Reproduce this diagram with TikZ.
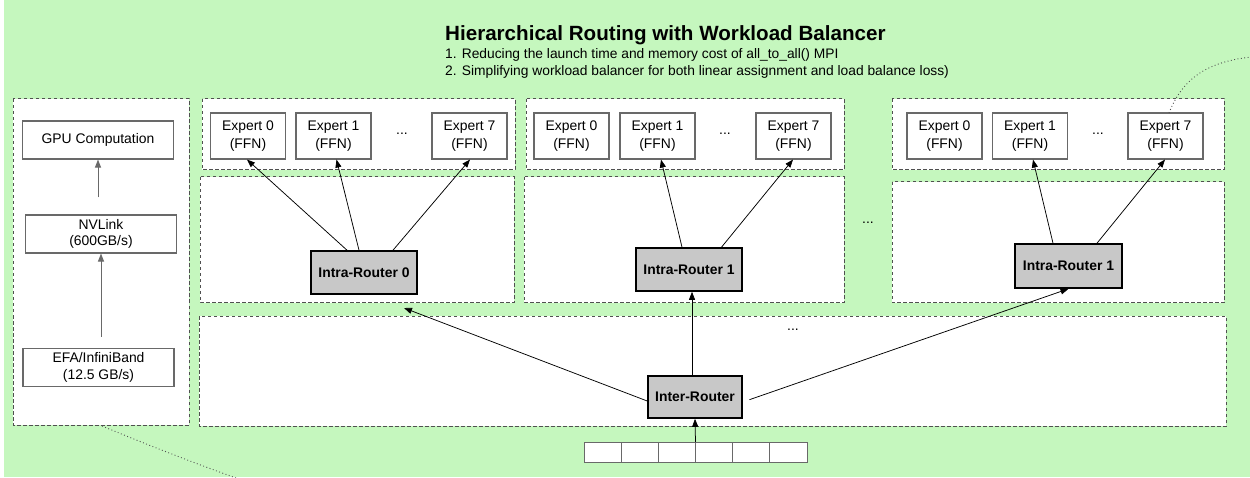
\documentclass[tikz,border=0pt]{standalone}
\usepackage{fontspec}
\setmainfont{Liberation Sans}
\usetikzlibrary{arrows.meta}
\definecolor{bggreen}{RGB}{197,247,190}
\definecolor{routergray}{RGB}{200,200,200}
\definecolor{dashgray}{RGB}{80,80,80}
\definecolor{boxgray}{RGB}{105,105,105}
\tikzset{
  panel/.style={draw=dashgray, fill=white, line width=1pt, dash pattern=on 3.5pt off 2.5pt},
  expert/.style={draw=boxgray, fill=white, line width=1.1pt, minimum width=75pt, minimum height=46pt,
    inner sep=0pt, align=center, font=\fontsize{13.9}{17.5}\selectfont},
  leftbox/.style={draw=boxgray, fill=white, line width=1.1pt, minimum width=151pt, minimum height=38pt,
    inner sep=0pt, align=center, font=\fontsize{13.9}{16.5}\selectfont},
  router/.style={draw=black, fill=routergray, line width=1.6pt, minimum height=42pt,
    inner sep=0pt, align=center, font=\fontsize{13.9}{16}\selectfont\bfseries},
  cell/.style={draw=boxgray, fill=white, line width=0.9pt, minimum width=37.17pt, minimum height=20pt, inner sep=0pt},
  dotsnode/.style={inner sep=0pt, font=\fontsize{13.9}{16}\selectfont},
  arr/.style={-{Triangle[length=8pt,width=6pt]}, line width=0.75pt, draw=black},
  grayarr/.style={-{Triangle[length=8pt,width=6pt]}, line width=0.9pt, draw=boxgray},
  dottedlink/.style={draw=dashgray, line width=0.9pt, dash pattern=on 0.9pt off 2.5pt},
}
\begin{document}
\begin{tikzpicture}[x=1pt,y=-1pt]
\useasboundingbox (0,0) rectangle (1250,478);
\fill[white] (0,0) rectangle (1250,478);
\fill[bggreen] (4,0) rectangle (1250,477);

% title
\node[anchor=base west, inner sep=0pt, font=\fontsize{20.6}{24}\selectfont\bfseries] (title) at (445,41) {Hierarchical Routing with Workload Balancer};
\node[anchor=base west, inner sep=0pt, font=\fontsize{13.8}{16}\selectfont] (line1) at (445,59) {1. Reducing the launch time and memory cost of all\_to\_all() MPI};
\node[anchor=base west, inner sep=0pt, font=\fontsize{13.8}{16}\selectfont] (line2) at (445,76) {2. Simplifying workload balancer for both linear assignment and load balance loss)};

% containers
\draw[panel] (13,99) rectangle (189,425);
\draw[panel] (202,99) rectangle (515,170);
\draw[panel] (526,99) rectangle (844,170);
\draw[panel] (892,99) rectangle (1224,170);
\draw[panel] (200,177) rectangle (514,303);
\draw[panel] (524,177) rectangle (844,303);
\draw[panel] (892,182) rectangle (1224,303);
\draw[panel] (199,316) rectangle (1226,426);

% left panel
\node[leftbox] (gpu) at (98,140) {GPU Computation};
\node[leftbox] (nv) at (101,234) {NVLink\\(600GB/s)};
\node[leftbox] (efa) at (98.5,367.5) {EFA/InfiniBand\\(12.5 GB/s)};
\draw[grayarr, shorten <=17pt] (nv.north -| gpu.south) -- (gpu.south);
\draw[grayarr, shorten <=11pt] (efa.north -| nv.south) -- (nv.south);

% experts group 1
\node[expert] (a0) at (248,136) {Expert 0\\(FFN)};
\node[expert] (a1) at (333.5,136) {Expert 1\\(FFN)};
\node[dotsnode] (adots) at (402,134) {...};
\node[expert] (a7) at (469.5,136) {Expert 7\\(FFN)};
% experts group 2
\node[expert] (b0) at (571.5,136) {Expert 0\\(FFN)};
\node[expert] (b1) at (657.5,136) {Expert 1\\(FFN)};
\node[dotsnode] (bdots) at (725,134) {...};
\node[expert] (b7) at (793.5,136) {Expert 7\\(FFN)};
% experts group 3
\node[expert] (c0) at (944.5,136) {Expert 0\\(FFN)};
\node[expert] (c1) at (1030,136) {Expert 1\\(FFN)};
\node[dotsnode] (cdots) at (1098,134) {...};
\node[expert] (c7) at (1165.5,136) {Expert 7\\(FFN)};

% routers
\node[router, minimum width=106pt, minimum height=43pt] (ra) at (364,272.5) {Intra-Router 0};
\node[router, minimum width=106pt, minimum height=43pt] (rb) at (689,269.5) {Intra-Router 1};
\node[router, minimum width=107pt, minimum height=44pt] (rc) at (1068.5,266) {Intra-Router 1};
\node[router, minimum width=94pt] (inter) at (695,397) {Inter-Router};

\node[dotsnode] (mdots) at (868,223) {...};
\node[dotsnode] (ldots) at (793,330) {...};

% token cells
\foreach \i in {0,...,5} {
  \node[cell] (t\i) at ({584+18.585+37.17*\i},452) {};
}
\coordinate (tokc) at (695.5,442);

% arrows group 1
\draw[arr] ([xshift=-17pt]ra.north) -- ([xshift=-1pt]a0.south);
\draw[arr] ([xshift=-5pt]ra.north) -- ([xshift=3pt]a1.south);
\draw[arr] ([xshift=29pt]ra.north) -- ([xshift=0.5pt]a7.south);
% group 2
\draw[arr] ([xshift=-7pt]rb.north) -- ([xshift=3.5pt]b1.south);
\draw[arr] ([xshift=32.5pt]rb.north) -- ([xshift=-0.5pt]b7.south);
% group 3
\draw[arr] ([xshift=-15.5pt]rc.north) -- ([xshift=3pt]c1.south);
\draw[arr] ([xshift=28.5pt]rc.north) -- ([xshift=-0.5pt]c7.south);

% inter router arrows
\coordinate (raend) at (404,308);
\draw[arr] ([yshift=-4pt]inter.west) -- (raend);
\draw[arr] ([xshift=-3pt]inter.north) -- ([xshift=3pt]rb.south);
\draw[arr, shorten <=7pt] ([yshift=-5pt]inter.east) -- (rc.south);
\draw[arr] (tokc) -- (inter.south);

% dotted links
\coordinate (dl1) at (102,426);
\coordinate (dl2) at (236,478);
\draw[dottedlink] (dl1) .. controls (160,450) and (200,465) .. (dl2);
\coordinate (dr1) at (1169,113);
\coordinate (dr2) at (1252,57);
\draw[dottedlink] (dr1) .. controls (1180,85) and (1200,62) .. (dr2);
\end{tikzpicture}
\end{document}
